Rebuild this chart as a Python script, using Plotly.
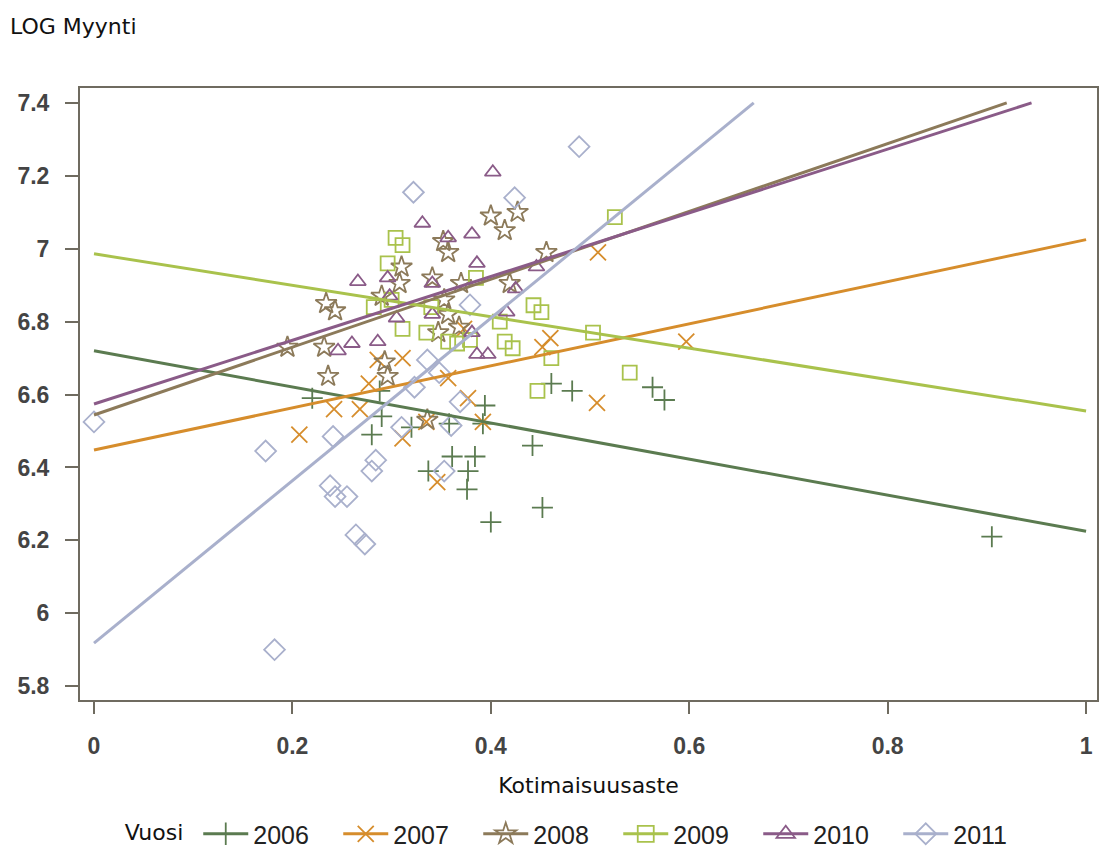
import plotly.graph_objects as go

years = ["2006", "2007", "2008", "2009", "2010", "2011"]
colors = ["#5b7b50", "#d68d2c", "#8c7a5a", "#a9c24c", "#8a5b88", "#a9b0cc"]
symbols = ["cross-thin-open", "x-thin-open", "star-open", "square-open", "triangle-up-open", "diamond-open"]
marker_sizes = [15, 16, 16, 14, 14, 16]

# scatter data per year (Kotimaisuusaste, LOG Myynti)
x2006 = [0.22, 0.28, 0.29, 0.288, 0.32, 0.337, 0.358, 0.361, 0.376, 0.377, 0.384, 0.392, 0.394, 0.40, 0.442, 0.452, 0.461, 0.482, 0.563, 0.575, 0.905]
y2006 = [6.59, 6.49, 6.54, 6.61, 6.51, 6.39, 6.52, 6.43, 6.34, 6.39, 6.43, 6.52, 6.57, 6.25, 6.46, 6.29, 6.63, 6.61, 6.62, 6.585, 6.21]

x2007 = [0.207, 0.242, 0.268, 0.277, 0.286, 0.311, 0.311, 0.335, 0.346, 0.357, 0.373, 0.377, 0.392, 0.452, 0.46, 0.508, 0.507, 0.597]
y2007 = [6.49, 6.56, 6.56, 6.63, 6.695, 6.70, 6.48, 6.525, 6.36, 6.645, 6.78, 6.59, 6.525, 6.73, 6.755, 6.99, 6.577, 6.745]

x2008 = [0.195, 0.232, 0.234, 0.243, 0.236, 0.293, 0.296, 0.29, 0.308, 0.31, 0.336, 0.341, 0.352, 0.357, 0.353, 0.357, 0.368, 0.37, 0.40, 0.414, 0.427, 0.419, 0.456, 0.347]
y2008 = [6.73, 6.73, 6.85, 6.83, 6.65, 6.69, 6.65, 6.87, 6.905, 6.95, 6.53, 6.92, 7.02, 6.99, 6.86, 6.82, 6.785, 6.905, 7.09, 7.05, 7.10, 6.905, 6.99, 6.77]

x2009 = [0.282, 0.296, 0.304, 0.311, 0.311, 0.30, 0.335, 0.34, 0.357, 0.366, 0.379, 0.385, 0.409, 0.414, 0.422, 0.443, 0.451, 0.461, 0.447, 0.503, 0.525, 0.54]
y2009 = [6.84, 6.96, 7.03, 7.01, 6.78, 6.86, 6.77, 6.84, 6.745, 6.74, 6.75, 6.92, 6.80, 6.745, 6.727, 6.845, 6.826, 6.70, 6.61, 6.77, 7.087, 6.66]

x2010 = [0.246, 0.26, 0.266, 0.286, 0.296, 0.298, 0.305, 0.331, 0.341, 0.341, 0.357, 0.381, 0.381, 0.386, 0.386, 0.397, 0.402, 0.416, 0.425, 0.446]
y2010 = [6.72, 6.74, 6.91, 6.745, 6.92, 6.87, 6.81, 7.07, 6.82, 6.905, 7.03, 7.04, 6.77, 6.96, 6.71, 6.71, 7.21, 6.826, 6.89, 6.95]

x2011 = [0.0, 0.173, 0.182, 0.238, 0.241, 0.243, 0.255, 0.264, 0.273, 0.28, 0.284, 0.31, 0.323, 0.336, 0.322, 0.348, 0.353, 0.36, 0.369, 0.379, 0.424, 0.489]
y2011 = [6.525, 6.445, 5.90, 6.35, 6.485, 6.32, 6.32, 6.215, 6.19, 6.39, 6.42, 6.51, 6.62, 6.695, 7.155, 6.66, 6.39, 6.515, 6.58, 6.846, 7.14, 7.28]

xs = [x2006, x2007, x2008, x2009, x2010, x2011]
ys = [y2006, y2007, y2008, y2009, y2010, y2011]

# fitted line end points per year
line_x_start = [0, 0, 0, 0, 0, 0]
line_y_start = [6.72, 6.448, 6.544, 6.986, 6.574, 5.918]
line_x_end = [1.0, 1.0, 0.92, 1.0, 0.945, 0.665]
line_y_end = [6.225, 7.025, 7.40, 6.555, 7.40, 7.40]

y_tickvals = [5.8, 6.0, 6.2, 6.4, 6.6, 6.8, 7.0, 7.2, 7.4]
y_ticktext = ["5.8", "6", "6.2", "6.4", "6.6", "6.8", "7", "7.2", "7.4"]
x_tickvals = [0, 0.2, 0.4, 0.6, 0.8, 1.0]
x_ticktext = ["0", "0.2", "0.4", "0.6", "0.8", "1"]

fig = go.Figure()

for i, yr in enumerate(years):
    fig.add_trace(go.Scatter(
        x=xs[i], y=ys[i], mode="markers", showlegend=False, hoverinfo="skip",
        marker=dict(symbol=symbols[i], size=marker_sizes[i], color=colors[i],
                    line=dict(color=colors[i], width=1.8)),
    ))

for i, yr in enumerate(years):
    fig.add_trace(go.Scatter(
        x=[line_x_start[i], line_x_end[i]], y=[line_y_start[i], line_y_end[i]],
        mode="lines", showlegend=False, hoverinfo="skip",
        line=dict(color=colors[i], width=3),
    ))

for i, yr in enumerate(years):
    fig.add_trace(go.Scatter(
        x=[None], y=[None], mode="lines+markers", name=yr,
        line=dict(color=colors[i], width=3),
        marker=dict(symbol=symbols[i], size=marker_sizes[i] + 4, color=colors[i],
                    line=dict(color=colors[i], width=1.8)),
    ))

axis_color = "#6f6b60"
tick_font = dict(family="Liberation Sans, Arial, sans-serif", size=23, color="#444444", weight="bold")
label_font = dict(family="DejaVu Sans, sans-serif", size=22, color="#111111")

fig.update_layout(
    width=1099, height=853,
    margin=dict(l=80, r=2, t=88, b=153, autoexpand=False),
    paper_bgcolor="white", plot_bgcolor="white",
    hovermode=False,
    xaxis=dict(
        range=[-0.0141, 1.011], tickvals=x_tickvals, ticktext=x_ticktext,
        showgrid=False, zeroline=False, showline=True, mirror=True,
        linecolor=axis_color, linewidth=2, ticks="outside", ticklen=12,
        tickwidth=2, tickcolor=axis_color, tickfont=tick_font, ticklabelstandoff=12,
        title=dict(text="Kotimaisuusaste", font=label_font, standoff=20),
    ),
    yaxis=dict(
        range=[5.762, 7.441], tickvals=y_tickvals, ticktext=y_ticktext,
        showgrid=False, zeroline=False, showline=True, mirror=True,
        linecolor=axis_color, linewidth=2, ticks="outside", ticklen=13,
        tickwidth=2, tickcolor=axis_color, tickfont=tick_font, ticklabelstandoff=11,
    ),
    legend=dict(
        orientation="h", x=0.042, xanchor="left", y=-0.219, yanchor="middle",
        title=dict(text="Vuosi ", side="left", font=label_font),
        font=dict(family="Liberation Sans, Arial, sans-serif", size=25, color="#222222"),
        itemwidth=45, entrywidth=80, entrywidthmode="pixels", tracegroupgap=0,
    ),
    annotations=[dict(
        text="LOG Myynti", xref="paper", yref="paper", x=-0.0707, y=1.0997,
        xanchor="left", yanchor="middle", showarrow=False,
        font=label_font,
    )],
)

fig.write_html("out.html")
